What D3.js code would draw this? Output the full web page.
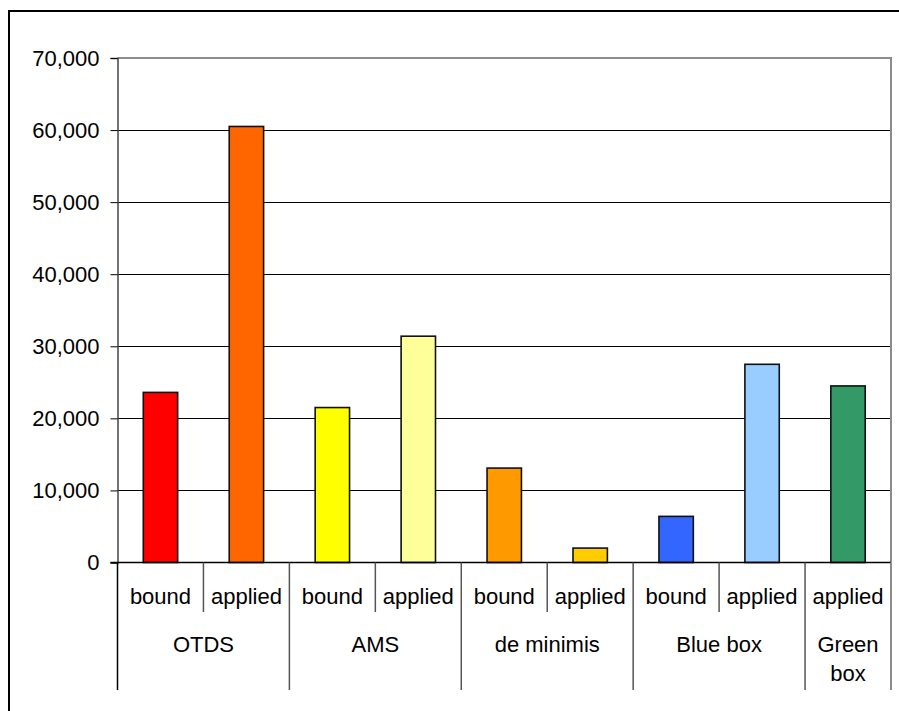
<!DOCTYPE html>
<html>
<head>
<meta charset="utf-8">
<script src="https://cdn.jsdelivr.net/npm/d3@7"></script>
<style>
  html, body { margin: 0; padding: 0; background: #fff; }
  svg { display: block; }
  text { font-family: "Liberation Sans", Arial, sans-serif; fill: #000; }
</style>
</head>
<body>
<svg id="chart" width="899" height="711"></svg>
<script>
// Support levels by measure: bound vs applied
const measures = ["bound", "applied", "bound", "applied", "bound", "applied", "bound", "applied", "applied"];
const groups = ["OTDS", "OTDS", "AMS", "AMS", "de minimis", "de minimis", "Blue box", "Blue box", "Green box"];
const values = [23600, 60500, 21500, 31400, 13100, 2000, 6400, 27500, 24500];
const barColors = ["#FF0000", "#FF6600", "#FFFF00", "#FFFF99", "#FF9900", "#FFCC00", "#3366FF", "#99CCFF", "#339966"];
const groupLabels = [["OTDS"], ["AMS"], ["de minimis"], ["Blue box"], ["Green", "box"]];
const yTicks = [0, 10000, 20000, 30000, 40000, 50000, 60000, 70000];

const svg = d3.select("#chart");
const plot = { left: 117.5, right: 891, top: 58, bottom: 562.5 };
const fontSize = 22;

// outer frame
svg.append("rect")
  .attr("x", 9).attr("y", 11)
  .attr("width", 910).attr("height", 720)
  .attr("fill", "none").attr("stroke", "#000").attr("stroke-width", 2);

const idx = d3.range(values.length);
const x = d3.scaleBand().domain(idx).range([plot.left, plot.right]).paddingInner(0.6).paddingOuter(0.3);
const slot = d3.scaleBand().domain(idx).range([plot.left, plot.right]);
const y = d3.scaleLinear().domain([0, 70000]).range([plot.bottom, plot.top]);
const yPix = v => Math.round(y(v) - 0.5) + 0.5;

// horizontal gridlines
svg.append("g")
  .selectAll("line")
  .data(yTicks.filter(t => t > 0 && t < 70000))
  .join("line")
  .attr("x1", plot.left).attr("x2", plot.right)
  .attr("y1", d => yPix(d)).attr("y2", d => yPix(d))
  .attr("stroke", "#000").attr("stroke-width", 1);

// plot area border (top and right)
svg.append("path")
  .attr("d", `M${plot.left},${y(70000)}H${plot.right}V${plot.bottom}`)
  .attr("fill", "none").attr("stroke", "#8c8c8c").attr("stroke-width", 2);

// bars
svg.append("g")
  .selectAll("rect")
  .data(idx)
  .join("rect")
  .attr("x", i => x(i))
  .attr("width", x.bandwidth())
  .attr("y", i => y(values[i]))
  .attr("height", i => y(0) - y(values[i]))
  .attr("fill", i => barColors[i])
  .attr("stroke", "#111").attr("stroke-width", 1.6);

// value axis
const yAxis = svg.append("g")
  .attr("transform", `translate(${plot.left},0)`)
  .call(d3.axisLeft(y).tickValues(yTicks).tickSize(7).tickPadding(11).tickFormat(d3.format(",")));
yAxis.select(".domain").attr("stroke", "#444").attr("stroke-width", 1.5);
yAxis.selectAll(".tick line").attr("stroke", "#000").attr("stroke-width", 1);
yAxis.selectAll(".tick text")
  .attr("font-family", "Liberation Sans, Arial, sans-serif")
  .attr("font-size", fontSize).attr("fill", "#000");

// category axis line
svg.append("line")
  .attr("x1", plot.left - 7).attr("x2", plot.right)
  .attr("y1", plot.bottom).attr("y2", plot.bottom)
  .attr("stroke", "#000").attr("stroke-width", 1.5);

// dividers between measures (short) and between groups (long)
const lowerDividers = [];
const upperDividers = [];
idx.forEach(i => {
  if (i === 0) return;
  if (groups[i] === groups[i - 1]) lowerDividers.push(i); else upperDividers.push(i);
});
svg.append("g").selectAll("line").data(lowerDividers).join("line")
  .attr("x1", i => slot(i)).attr("x2", i => slot(i))
  .attr("y1", plot.bottom).attr("y2", 612)
  .attr("stroke", "#555").attr("stroke-width", 1.5);
svg.append("g").selectAll("line").data(upperDividers).join("line")
  .attr("x1", i => slot(i)).attr("x2", i => slot(i))
  .attr("y1", plot.bottom).attr("y2", 690)
  .attr("stroke", "#555").attr("stroke-width", 1.5);
svg.append("line")
  .attr("x1", plot.left).attr("x2", plot.left)
  .attr("y1", plot.bottom).attr("y2", 690)
  .attr("stroke", "#000").attr("stroke-width", 1.5);
svg.append("line")
  .attr("x1", plot.right).attr("x2", plot.right)
  .attr("y1", plot.bottom).attr("y2", 690)
  .attr("stroke", "#8c8c8c").attr("stroke-width", 2);

// measure labels
svg.append("g").selectAll("text").data(idx).join("text")
  .attr("x", i => slot(i) + slot.bandwidth() / 2)
  .attr("y", 596)
  .attr("text-anchor", "middle").attr("dominant-baseline", "central")
  .attr("font-size", fontSize)
  .text(i => measures[i]);

// group labels
const groupNames = Array.from(new Set(groups));
const groupSpans = groupNames.map((g, k) => {
  const members = idx.filter(i => groups[i] === g);
  const x0 = slot(members[0]);
  const x1 = slot(members[members.length - 1]) + slot.bandwidth();
  return { cx: (x0 + x1) / 2, lines: groupLabels[k] };
});
const gl = svg.append("g").selectAll("text").data(groupSpans).join("text")
  .attr("text-anchor", "middle").attr("dominant-baseline", "central")
  .attr("font-size", fontSize);
gl.each(function (d) {
  const t = d3.select(this);
  d.lines.forEach((line, j) => {
    t.append("tspan").attr("x", d.cx).attr("y", 644 + j * 29).text(line);
  });
});
</script>
</body>
</html>
